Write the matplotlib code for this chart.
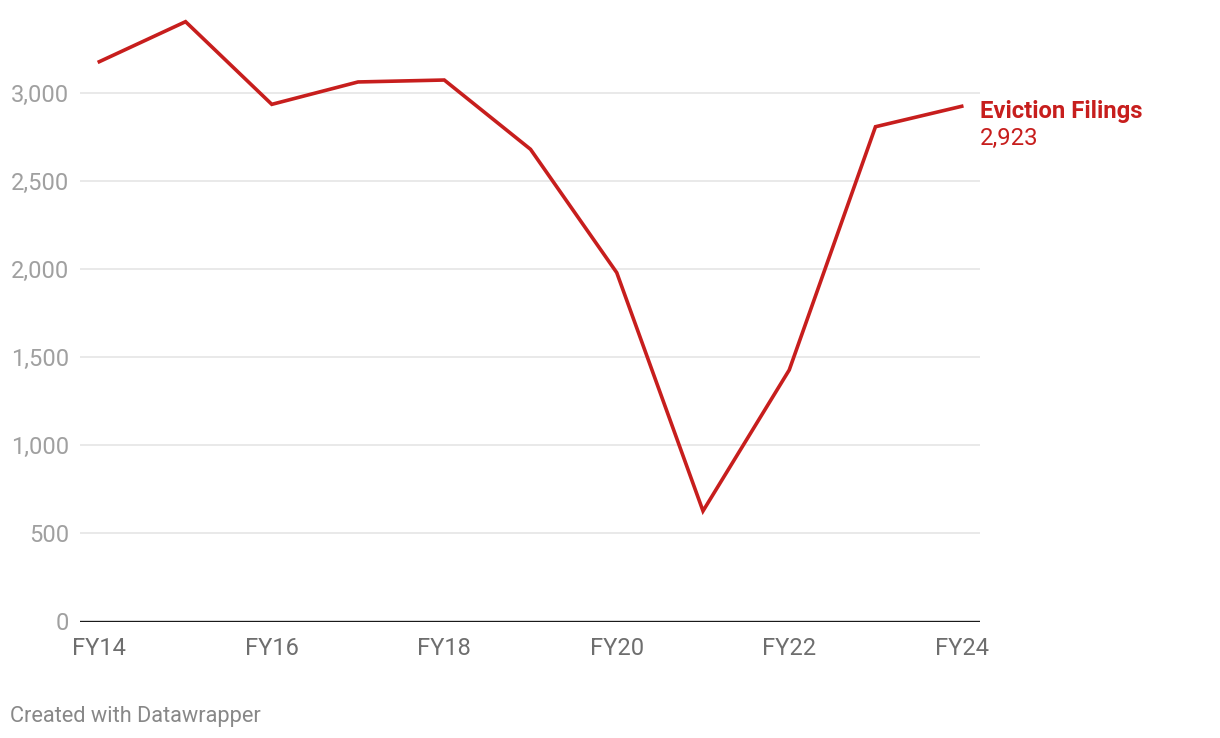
import matplotlib.pyplot as plt
import numpy as np

# eviction filings per fiscal year
years = [14, 15, 16, 17, 18, 19, 20, 21, 22, 23, 24]
filings = [3176, 3403, 2934, 3061, 3072, 2679, 1979, 627, 1427, 2807, 2923]
y_ticks = [0, 500, 1000, 1500, 2000, 2500, 3000]
x_ticks = [14, 16, 18, 20, 22, 24]
x_labels = ['FY14', 'FY16', 'FY18', 'FY20', 'FY22', 'FY24']

red = '#c71e1d'
plt.rcParams['font.family'] = ['Roboto', 'DejaVu Sans']

fig = plt.figure(figsize=(12.2, 7.38), dpi=100)
ax = fig.add_axes([80 / 1220, 1 - 621.5 / 738, 900 / 1220, 621.5 / 738])

ax.plot(years, filings, color=red, lw=2.6, solid_joinstyle='miter', zorder=3)

ax.set_xlim(13.776, 24.212)
ax.set_ylim(0, 3526)

for v in y_ticks[1:]:
    ax.axhline(v, color='#e3e3e3', lw=1.1, zorder=1)
ax.axhline(0, color='#1a1a1a', lw=1.7, zorder=2)

for s in ax.spines.values():
    s.set_visible(False)

ax.set_yticks(y_ticks)
ax.set_yticklabels([f'{v:,}' for v in y_ticks])
ax.set_xticks(x_ticks)
ax.set_xticklabels(x_labels)
ax.tick_params(axis='y', length=0, pad=8, labelsize=17, labelcolor='#a0a0a0')
ax.tick_params(axis='x', length=0, pad=11, labelsize=17, labelcolor='#6e6e6e')

# direct label at the line end
ax.annotate('Eviction Filings', xy=(years[-1], filings[-1]), xytext=(13, -3.5),
            textcoords='offset points', color=red, fontsize=17.2, fontweight='bold',
            va='center', ha='left', annotation_clip=False)
ax.annotate(f'{filings[-1]:,}', xy=(years[-1], filings[-1]), xytext=(13, -23),
            textcoords='offset points', color=red, fontsize=17.2,
            va='center', ha='left', annotation_clip=False)

fig.text(10 / 1220, 1 - 716.5 / 738, 'Created with Datawrapper', fontsize=15.7,
         color='#888888', va='center', ha='left')

fig.savefig('out.png', dpi=100)
